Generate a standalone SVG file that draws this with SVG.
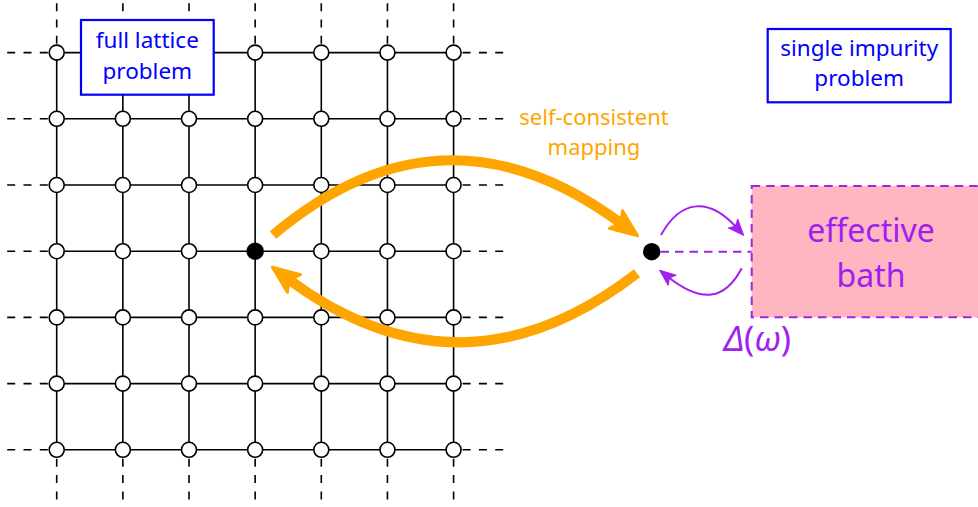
<svg xmlns="http://www.w3.org/2000/svg" xmlns:xlink="http://www.w3.org/1999/xlink" width="978" height="507" viewBox="0 0 978 507">
  <style>
    .bond { stroke: #000; stroke-width: 1.6; fill: none; }
    .ext { stroke: #000; stroke-width: 1.6; fill: none; stroke-dasharray: 8 8.3; }
    .site { fill: #fff; stroke: #000; stroke-width: 1.6; }
    .dot { fill: #000; }
    .label { font-family: "Noto Sans", "Open Sans", sans-serif; text-anchor: middle; }
    .blue-box { fill: #fff; stroke: #0000ff; stroke-width: 2.2; }
    .blue { fill: #0000ff; font-size: 22.5px; }
    .orange { fill: #ffa500; font-size: 22px; }
    .violet { fill: #a020f0; }
    .map { stroke: #ffa500; stroke-width: 10; fill: none; }
    .hyb { stroke: #a020f0; stroke-width: 2; fill: none; }
    .hyb-dash { stroke: #a020f0; stroke-width: 2; fill: none; stroke-dasharray: 8.5 6; }
  </style>
  <defs>
    <circle id="s" r="7.5" class="site"/>
    <marker id="head-orange" markerUnits="userSpaceOnUse" viewBox="-14 -16 38 32" markerWidth="38" markerHeight="32" refX="0" refY="0" orient="auto" overflow="visible">
      <path d="M-9,-11 L18,0 L-9,11 L-3,0 Z" fill="#ffa500" stroke="#ffa500" stroke-width="3" stroke-linejoin="round"/>
    </marker>
    <marker id="head-violet" markerUnits="userSpaceOnUse" viewBox="-9 -9 22 18" markerWidth="22" markerHeight="18" refX="0" refY="0" orient="auto" overflow="visible">
      <path d="M-6,-6.5 L10,0 L-6,6.5 L-2.5,0 Z" fill="#a020f0" stroke="#a020f0" stroke-width="1" stroke-linejoin="round"/>
    </marker>
  </defs>

  <!-- lattice bonds -->
  <g id="lattice-bonds">
    <path class="bond" d="M56.7,52.6H453.6 M56.7,118.8H453.6 M56.7,185H453.6 M56.7,251.2H453.6 M56.7,317.4H453.6 M56.7,383.6H453.6 M56.7,449.8H453.6"/>
    <path class="bond" d="M56.7,52.6V449.8 M122.85,52.6V449.8 M189,52.6V449.8 M255.15,52.6V449.8 M321.3,52.6V449.8 M387.45,52.6V449.8 M453.6,52.6V449.8"/>
    <!-- open boundary continuations, drawn from the outside in -->
    <path class="ext" d="M7.2,52.6H56.7 M7.2,118.8H56.7 M7.2,185H56.7 M7.2,251.2H56.7 M7.2,317.4H56.7 M7.2,383.6H56.7 M7.2,449.8H56.7"/>
    <path class="ext" d="M503.2,52.6H453.6 M503.2,118.8H453.6 M503.2,185H453.6 M503.2,251.2H453.6 M503.2,317.4H453.6 M503.2,383.6H453.6 M503.2,449.8H453.6"/>
    <path class="ext" d="M56.7,3.2V52.6 M122.85,3.2V52.6 M189,3.2V52.6 M255.15,3.2V52.6 M321.3,3.2V52.6 M387.45,3.2V52.6 M453.6,3.2V52.6"/>
    <path class="ext" d="M56.7,499.4V449.8 M122.85,499.4V449.8 M189,499.4V449.8 M255.15,499.4V449.8 M321.3,499.4V449.8 M387.45,499.4V449.8 M453.6,499.4V449.8"/>
  </g>

  <!-- lattice sites -->
  <g id="lattice-sites">
    <use xlink:href="#s" x="56.7" y="52.6"/><use xlink:href="#s" x="255.15" y="52.6"/><use xlink:href="#s" x="321.3" y="52.6"/><use xlink:href="#s" x="387.45" y="52.6"/><use xlink:href="#s" x="453.6" y="52.6"/>
    <use xlink:href="#s" x="56.7" y="118.8"/><use xlink:href="#s" x="122.85" y="118.8"/><use xlink:href="#s" x="189" y="118.8"/><use xlink:href="#s" x="255.15" y="118.8"/><use xlink:href="#s" x="321.3" y="118.8"/><use xlink:href="#s" x="387.45" y="118.8"/><use xlink:href="#s" x="453.6" y="118.8"/>
    <use xlink:href="#s" x="56.7" y="185"/><use xlink:href="#s" x="122.85" y="185"/><use xlink:href="#s" x="189" y="185"/><use xlink:href="#s" x="255.15" y="185"/><use xlink:href="#s" x="321.3" y="185"/><use xlink:href="#s" x="387.45" y="185"/><use xlink:href="#s" x="453.6" y="185"/>
    <use xlink:href="#s" x="56.7" y="251.2"/><use xlink:href="#s" x="122.85" y="251.2"/><use xlink:href="#s" x="189" y="251.2"/><use xlink:href="#s" x="321.3" y="251.2"/><use xlink:href="#s" x="387.45" y="251.2"/><use xlink:href="#s" x="453.6" y="251.2"/>
    <use xlink:href="#s" x="56.7" y="317.4"/><use xlink:href="#s" x="122.85" y="317.4"/><use xlink:href="#s" x="189" y="317.4"/><use xlink:href="#s" x="255.15" y="317.4"/><use xlink:href="#s" x="321.3" y="317.4"/><use xlink:href="#s" x="387.45" y="317.4"/><use xlink:href="#s" x="453.6" y="317.4"/>
    <use xlink:href="#s" x="56.7" y="383.6"/><use xlink:href="#s" x="122.85" y="383.6"/><use xlink:href="#s" x="189" y="383.6"/><use xlink:href="#s" x="255.15" y="383.6"/><use xlink:href="#s" x="321.3" y="383.6"/><use xlink:href="#s" x="387.45" y="383.6"/><use xlink:href="#s" x="453.6" y="383.6"/>
    <use xlink:href="#s" x="56.7" y="449.8"/><use xlink:href="#s" x="122.85" y="449.8"/><use xlink:href="#s" x="189" y="449.8"/><use xlink:href="#s" x="255.15" y="449.8"/><use xlink:href="#s" x="321.3" y="449.8"/><use xlink:href="#s" x="387.45" y="449.8"/><use xlink:href="#s" x="453.6" y="449.8"/>
  </g>

  <!-- the selected lattice site -->
  <g id="lattice-site">
    <circle class="dot" cx="255.15" cy="251.2" r="8.7"/>
  </g>

  <!-- title boxes -->
  <g id="lattice-title">
    <rect class="blue-box" x="81" y="20" width="132.7" height="74.7"/>
    <text class="label blue" x="147.3" y="48.3">full lattice</text>
    <text class="label blue" x="147.3" y="78.8">problem</text>
  </g>
  <g id="impurity-title">
    <rect class="blue-box" x="767.7" y="29" width="183" height="73.3"/>
    <text class="label blue" x="859.2" y="56">single impurity</text>
    <text class="label blue" x="859.2" y="86">problem</text>
  </g>

  <!-- bath -->
  <g id="bath">
    <rect x="751.7" y="186" width="240" height="131.3" fill="#ffb6c1" stroke="#a020f0" stroke-width="2" stroke-dasharray="8.5 6"/>
    <text class="label violet" font-size="32" x="871" y="241.7">effective</text>
    <text class="label violet" font-size="32" x="871" y="286.7">bath</text>
  </g>

  <!-- impurity site -->
  <g id="impurity">
    <circle class="dot" cx="651.7" cy="251.7" r="8.7"/>
  </g>

  <!-- connectors -->
  <g id="connectors">
    <path class="map" d="M273,235 C393,134 509.7,140 623.2,225" marker-end="url(#head-orange)"/>
    <path class="map" d="M637,273.3 C517,366 400.2,363 286.8,278" marker-end="url(#head-orange)"/>
    <path class="hyb-dash" d="M660.5,251.7H751.7"/>
    <path class="hyb" d="M661,235 C681,199 709,197 737,228" marker-end="url(#head-violet)"/>
    <path class="hyb" d="M741.7,268.3 C725,300 702,304 667.5,276.5" marker-end="url(#head-violet)"/>
  </g>

  <!-- labels -->
  <g id="mapping-label">
    <text class="label orange" x="594" y="125">self-consistent</text>
    <text class="label orange" x="594" y="155">mapping</text>
  </g>
  <g id="hybridisation-label">
    <text class="violet" font-family="Noto Sans, sans-serif" font-size="34" x="724" y="351"><tspan font-style="italic">Δ</tspan>(<tspan font-style="italic">ω</tspan>)</text>
  </g>
</svg>
